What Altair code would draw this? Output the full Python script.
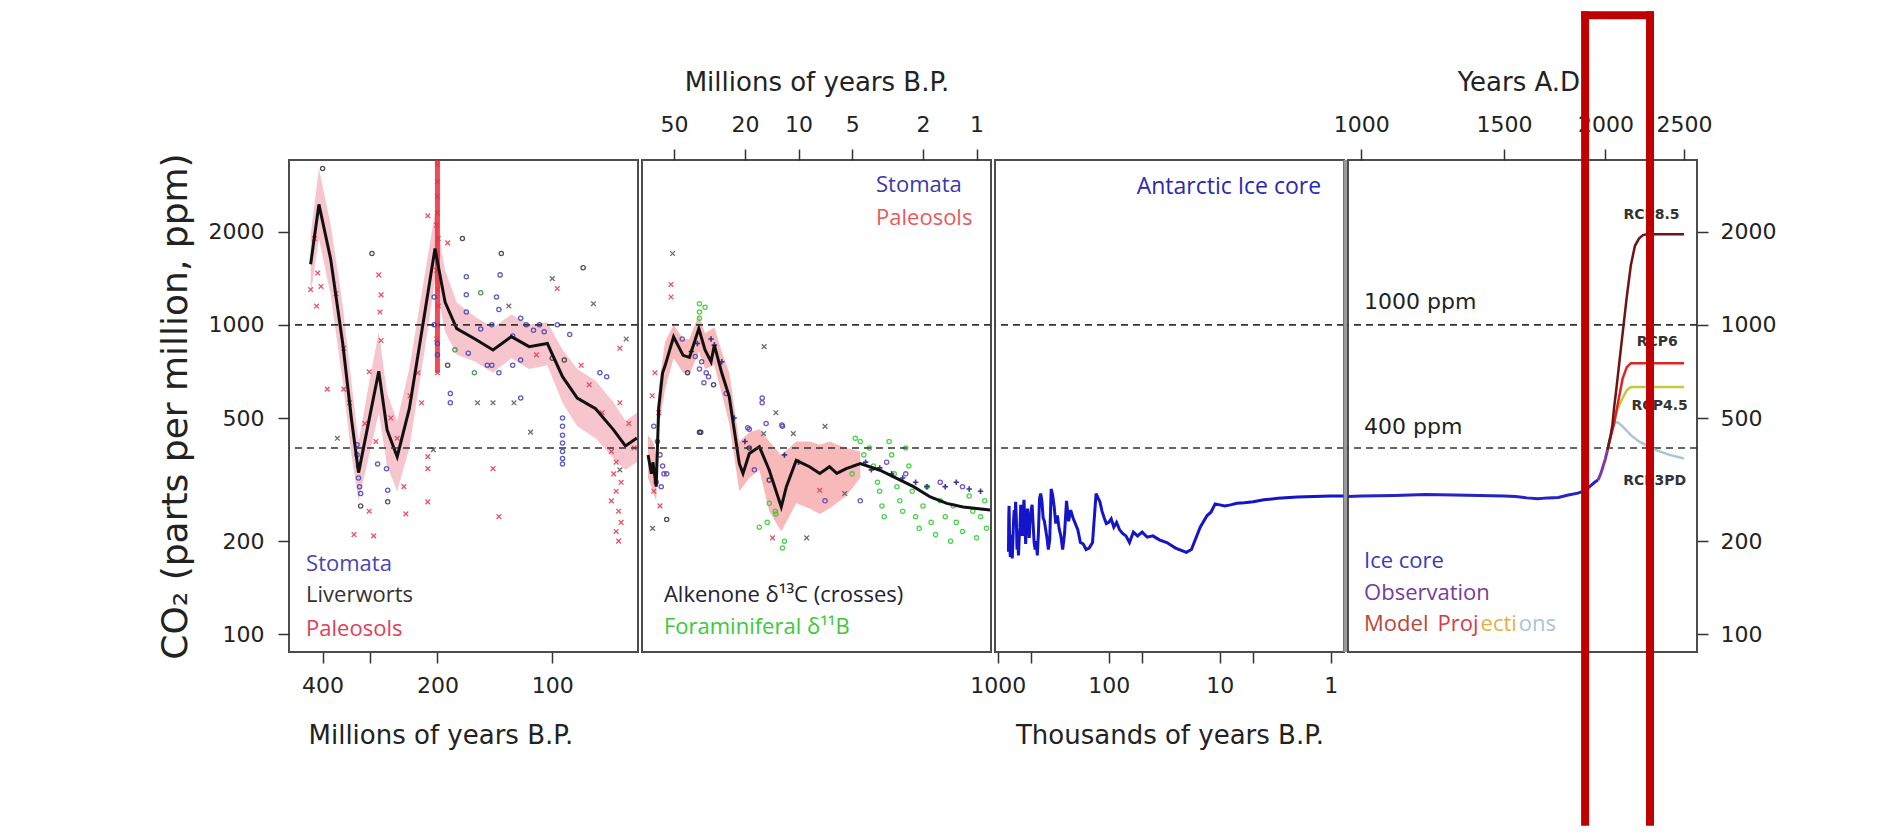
import altair as alt
import pandas as pd

# ===================== DATA =====================
# ---- Panel 1: Millions of years B.P. (490 - 60 Ma) ----
p1_line_age = [430, 409, 381, 354, 336, 322, 302, 285, 271, 255, 237, 217, 203, 191, 178, 159, 143, 128, 115, 103, 94, 86, 77, 69, 64.3, 60]
p1_line_co2 = [1570, 2450, 1630, 864, 495, 333, 495, 708, 457, 375, 536, 1052, 1763, 1185, 972, 898, 829, 916, 850, 870, 680, 580, 536, 457, 406, 431]
p1_band_lo = [1250, 1900, 1250, 650, 380, 270, 380, 520, 350, 290, 400, 800, 1400, 950, 800, 760, 700, 780, 720, 740, 560, 470, 430, 370, 340, 360]
p1_band_hi = [1950, 3200, 2100, 1150, 650, 420, 650, 950, 600, 490, 720, 1400, 2300, 1500, 1180, 1060, 980, 1080, 1000, 1020, 830, 720, 660, 560, 490, 520]
p1_streak_age = [200]
p1_streak_lo = [700]
p1_streak_hi = [3400]

p1_stomata_age = [168, 168, 168, 137, 140, 138, 121, 117, 112, 108, 105, 154, 144, 127, 204, 204, 200, 200, 148, 144, 121, 75, 72, 325, 325, 322, 322, 320, 318, 287, 272, 270, 185, 185, 121, 94, 94, 94, 94, 94, 94, 94, 166, 138, 127, 97, 90]
p1_stomata_co2 = [1430, 1250, 1100, 1450, 1230, 1120, 1050, 1000, 960, 1000, 950, 970, 1000, 920, 1230, 1000, 870, 800, 740, 740, 770, 700, 680, 410, 380, 350, 320, 300, 285, 355, 343, 292, 600, 560, 580, 500, 470, 440, 415, 390, 370, 355, 810, 700, 740, 1000, 930]
p1_liver_age = [400, 297, 172, 136, 83, 188, 318, 270, 93, 100]
p1_liver_co2 = [3200, 1700, 1900, 1700, 1530, 740, 260, 268, 770, 780]
p1_green_age = [154, 160, 180]
p1_green_co2 = [1270, 700, 830]
p1_paleo_age = [285, 281, 283, 281, 302, 369, 352, 412, 404, 212, 188, 97, 66.5, 84, 389, 302, 331, 294, 245, 242, 236, 212, 212, 212, 143, 138, 70, 68, 69, 66, 68, 70, 67, 66, 68, 67, 66.5, 352, 200, 200, 200, 200, 201, 199, 200, 201, 200, 199, 200, 201, 200, 420, 430, 415, 340, 310, 290, 265, 255, 225, 220, 110, 80, 74, 63, 61]
p1_paleo_co2 = [1450, 1250, 1100, 890, 705, 1260, 840, 1470, 1330, 2250, 1840, 1310, 840, 740, 620, 250, 210, 208, 300, 245, 590, 375, 343, 268, 343, 240, 390, 360, 330, 310, 290, 270, 250, 230, 215, 200, 560, 620, 3300, 2900, 2600, 2300, 2100, 1900, 1700, 1500, 1300, 1150, 1000, 900, 700, 1900, 1300, 1150, 560, 480, 420, 500, 430, 700, 560, 800, 640, 520, 480, 400]
p1_gray_age = [366, 205, 157, 143, 126, 114, 66.5, 100, 78, 130, 64]
p1_gray_co2 = [430, 395, 560, 560, 560, 450, 340, 1410, 1170, 1150, 900]

p1_label_text = ["Stomata", "Liverworts", "Paleosols"]
p1_label_age = [442, 442, 442]
p1_label_co2 = [169, 134, 104]

# ---- Panel 2: Millions of years B.P. (76 - 0.83 Ma) ----
p2_line_age = [70, 67, 65.7, 63, 61, 58, 56.2, 50.3, 44.5, 41, 36.3, 33.5, 31, 29.7, 27, 24.5, 21.5, 20.5, 18.9, 16.6, 14.6, 12.5, 11.7, 10.3, 8.67, 7.6, 6.7, 6.1, 5.4, 4.5, 3.49, 2.81, 2.26, 1.82, 1.47, 1.19, 0.84]
p2_line_co2 = [380, 330, 360, 300, 540, 700, 737, 915, 797, 785, 972, 829, 760, 860, 700, 586, 356, 331, 384, 404, 339, 258, 300, 365, 348, 331, 348, 331, 343, 356, 339, 319, 300, 278, 265, 258, 252]
p2_band_age = [70, 65.7, 63, 60.8, 56.2, 50.3, 44.5, 41, 36.3, 33.5, 29.7, 27, 24.5, 21.5, 18.9, 16.6, 14.6, 12.5, 10.3, 8.67, 7.6, 6.7, 5.4, 4.5]
p2_band_lo = [320, 290, 270, 470, 620, 780, 700, 690, 820, 720, 740, 600, 480, 290, 320, 340, 250, 215, 265, 255, 245, 255, 280, 320]
p2_band_hi = [440, 420, 380, 640, 880, 1000, 900, 900, 1080, 940, 980, 820, 700, 420, 450, 460, 420, 380, 420, 420, 410, 420, 400, 390]

p2_stomata_age = [38, 36, 35, 33, 32, 34, 25.5, 65, 16, 16, 19.3, 12.4, 18.9, 15.2, 12.3, 17.7, 7.1, 4.5, 62, 60, 58, 57, 63, 59, 55, 3.2, 2.5, 1.6, 1.2, 45]
p2_stomata_co2 = [790, 720, 760, 700, 680, 650, 600, 470, 580, 560, 465, 475, 460, 480, 470, 340, 270, 270, 420, 380, 350, 330, 310, 300, 330, 360, 330, 310, 300, 900]
p2_dark_age = [36, 35.4, 18.9, 14.6, 55, 42, 30]
p2_dark_co2 = [450, 450, 400, 315, 235, 700, 640]
p2_alk_age = [29.7, 31, 27, 4.2, 3.9, 3.5, 3.0, 2.6, 2.2, 1.9, 1.5, 1.3, 1.1, 0.95, 12, 10, 20, 23, 40, 37]
p2_alk_co2 = [860, 900, 760, 360, 340, 345, 330, 320, 310, 300, 300, 310, 295, 290, 380, 360, 420, 500, 820, 870]
p2_paleo_age = [52, 52, 66.3, 65, 14, 7.6, 60, 64, 61]
p2_paleo_co2 = [1350, 1230, 590, 290, 205, 292, 260, 700, 520]
p2_gray_age = [51, 15.6, 13.4, 7.1, 10.7, 15.7, 9, 5.5, 66]
p2_gray_co2 = [1700, 850, 520, 470, 445, 445, 205, 285, 220]
p2_foram_age = [36, 36, 33.5, 36, 4.5, 4.3, 4.0, 3.8, 3.6, 3.5, 3.4, 3.3, 3.1, 3.0, 2.9, 2.8, 2.7, 2.6, 2.5, 2.4, 2.3, 2.2, 2.1, 2.0, 1.9, 1.8, 1.7, 1.6, 1.5, 1.4, 1.35, 1.3, 1.2, 1.1, 1.05, 1.0, 0.95, 0.9, 0.88, 5, 4.8, 13.5, 15, 12, 14.6, 13.4, 16.6, 12.3]
p2_foram_co2 = [1170, 1050, 1140, 1100, 420, 380, 400, 350, 310, 290, 260, 240, 420, 380, 330, 300, 270, 250, 400, 350, 290, 240, 220, 260, 300, 230, 210, 270, 240, 200, 260, 230, 215, 280, 250, 205, 240, 270, 220, 330, 430, 250, 230, 200, 265, 245, 222, 190]

p2_label_text = ["Stomata", "Paleosols", "Alkenone δ¹³C (crosses)", "Foraminiferal δ¹¹B"]
p2_label_age = [3.67, 3.67, 57, 57]
p2_label_co2 = [2830, 2208, 134, 106]

# ---- Panel 3: Thousands of years B.P. (Antarctic ice core) ----
p3_age = [800, 795, 790, 780, 770, 760, 750, 740, 730, 720, 710, 700, 690, 680, 670, 660, 650, 640, 630, 620, 610, 600, 590, 580, 570, 560, 550, 540, 530, 520, 510, 500, 490, 480, 470, 460, 450, 440, 430, 420, 410, 400, 390, 380, 370, 360, 350, 340, 330, 320, 310, 300, 290, 280, 270, 260, 250, 240, 230, 220, 210, 200, 190, 180, 170, 160, 150, 140, 130, 125, 120, 115, 110, 105, 100, 95, 90, 85, 80, 75, 70, 65, 60, 55, 50, 45, 40, 35, 30, 25, 20, 18, 17, 15, 13, 12, 11, 10, 9, 8, 7, 6, 5, 4, 3, 2, 1, 0.76]
p3_co2 = [185, 240, 260, 195, 178, 210, 188, 176, 200, 232, 252, 228, 268, 238, 188, 200, 180, 205, 222, 262, 240, 208, 245, 272, 228, 196, 232, 255, 228, 205, 240, 252, 262, 228, 198, 188, 200, 180, 212, 275, 285, 270, 238, 232, 218, 205, 188, 202, 295, 282, 258, 228, 242, 220, 208, 188, 212, 270, 232, 252, 238, 228, 218, 198, 196, 188, 190, 198, 285, 276, 268, 250, 238, 228, 230, 236, 222, 230, 218, 212, 208, 198, 214, 208, 214, 206, 208, 202, 198, 190, 184, 188, 198, 222, 242, 248, 264, 262, 260, 262, 265, 266, 268, 272, 275, 278, 280, 280]
p3_label_text = ["Antarctic Ice core"]
p3_label_age = [1.22]
p3_label_co2 = [2783]

# ---- Panel 4: Years A.D. ----
p4_ice_year = [963, 1000, 1100, 1200, 1300, 1400, 1500, 1550, 1600, 1650, 1700, 1750, 1800, 1850, 1880, 1900, 1920, 1940, 1958]
p4_ice_co2 = [279, 280, 281, 283, 282, 281, 280, 279, 276, 274, 276, 277, 282, 286, 290, 296, 303, 310, 315]
p4_obs_year = [1958, 1970, 1980, 1990, 2000, 2005, 2012]
p4_obs_co2 = [315, 326, 339, 354, 369, 380, 394]
rcp85_year = [2012, 2020, 2030, 2040, 2050, 2060, 2070, 2080, 2090, 2100, 2125, 2150, 2175, 2200, 2225, 2250, 2500]
rcp85_co2 = [394, 415, 440, 475, 540, 600, 670, 750, 840, 936, 1230, 1560, 1800, 1900, 1950, 1962, 1962]
rcp6_year = [2012, 2030, 2050, 2070, 2100, 2125, 2150, 2500]
rcp6_co2 = [394, 435, 480, 550, 670, 730, 752, 752]
rcp45_year = [2012, 2030, 2050, 2070, 2100, 2125, 2150, 2500]
rcp45_co2 = [394, 435, 487, 535, 580, 615, 630, 630]
rcp3_year = [2012, 2030, 2050, 2070, 2100, 2150, 2200, 2300, 2400, 2500]
rcp3_co2 = [394, 440, 480, 485, 470, 440, 420, 395, 380, 370]

rcp_label_text = ["RCP8.5", "RCP6", "RCP4.5", "RCP3PD"]
rcp_label_year = [2280, 2317, 2333, 2300]
rcp_label_co2 = [2258, 881, 547, 312]
ppm_label_text = ["1000 ppm", "400 ppm"]
ppm_label_year = [1008, 1008]
ppm_label_co2 = [1186, 467]
p4_label_text = ["Ice core", "Observation"]
p4_label_year = [1008, 1008]
p4_label_co2 = [173, 136]
proj_label_text = ["Model ", "Proj", "ecti", "ons"]
proj_label_year = [1008, 1242, 1403, 1564]
proj_label_co2 = [108, 108, 108, 108]

ref_lines_co2 = [1000, 400]
highlight_year = [1888, 2270]
highlight_co2 = [10000, 24.8]

# ===================== STYLE =====================
NUM = "DejaVu Sans"
TXT = "Open Sans"
W, H = 349, 492
Y_TICKS = [100, 200, 500, 1000, 2000]
yscale = alt.Scale(type="log", domain=[87.7, 3408], nice=False)
X_PATH = "M-1,-1L1,1M-1,1L1,-1"
PLUS_PATH = "M-1,0L1,0M0,-1L0,1"


def make_axis(**kw):
    base = dict(grid=False, domain=False, tickSize=11, tickWidth=1.5, tickColor="#333333",
                labelFont=NUM, labelFontSize=22, labelColor="#222222", labelOverlap=False,
                titleFont=NUM, titleFontSize=26, titleFontWeight="normal", titleColor="#222222")
    base.update(kw)
    return alt.Axis(**base)


class Panel:
    def __init__(self, xs, xa, ya):
        self.xs, self.xa, self.ya = xs, xa, ya

    def enc(self, x="x", y="y", **extra):
        e = dict(x=alt.X(f"{x}:Q", scale=self.xs, axis=self.xa),
                 y=alt.Y(f"{y}:Q", scale=yscale, axis=self.ya))
        e.update(extra)
        return e

    def points(self, xs_, ys_, color, shape, size, sw=1.3, opacity=0.85):
        d = pd.DataFrame({"x": xs_, "y": ys_})
        return alt.Chart(d).mark_point(shape=shape, color=color, size=size, filled=False,
                                       strokeWidth=sw, opacity=opacity, clip=True).encode(**self.enc())

    def line(self, xs_, ys_, color, width):
        d = pd.DataFrame({"x": xs_, "y": ys_})
        return alt.Chart(d).mark_line(color=color, strokeWidth=width, clip=True).encode(**self.enc())

    def band(self, xs_, lo, hi, color, opacity):
        d = pd.DataFrame({"x": xs_, "y": lo, "hi": hi})
        return alt.Chart(d).mark_area(color=color, opacity=opacity, clip=True).encode(
            **self.enc(y2=alt.Y2("hi:Q")))

    def dashes(self):
        d = pd.DataFrame({"y": ref_lines_co2})
        return alt.Chart(d).mark_rule(color="#333333", strokeWidth=1.6, strokeDash=[7, 5]).encode(
            y=alt.Y("y:Q", scale=yscale, axis=self.ya))

    def texts(self, xs_, ys_, labels, colors, font=TXT, size=23, align="left", weight="normal"):
        d = pd.DataFrame({"x": xs_, "y": ys_, "t": labels})
        return alt.Chart(d).mark_text(align=align, baseline="middle", font=font, fontSize=size,
                                      fontWeight=weight).encode(
            **self.enc(text="t:N", color=alt.Color("t:N", scale=alt.Scale(domain=labels, range=colors),
                                                  legend=None)))


# ---- Panel 1 ----
P1 = Panel(
    alt.Scale(type="log", domain=[59.6, 490], reverse=True, nice=False),
    make_axis(orient="bottom", values=[400, 300, 200, 100],
              labelExpr="datum.value == 300 ? '' : format(datum.value, 'd')",
              labelPadding=12, title="Millions of years B.P.", titlePadding=26,
              titleX=19, titleAlign="left"),
    make_axis(orient="left", values=Y_TICKS, format="d", labelPadding=14,
              title="CO₂ (parts per million, ppm)", titleFontSize=36, titlePadding=14),
)
panel1 = alt.layer(
    P1.band(p1_line_age, p1_band_lo, p1_band_hi, "#f08c9c", 0.5),
    alt.Chart(pd.DataFrame({"x": p1_streak_age, "y": p1_streak_lo, "hi": p1_streak_hi}))
    .mark_rule(color="#e8202e", strokeWidth=5, opacity=0.8, clip=True)
    .encode(**P1.enc(y2=alt.Y2("hi:Q"))),
    P1.points(p1_paleo_age, p1_paleo_co2, "#e8344c", X_PATH, 22),
    P1.points(p1_gray_age, p1_gray_co2, "#555555", X_PATH, 22),
    P1.points(p1_stomata_age, p1_stomata_co2, "#4040b8", "circle", 18),
    P1.points(p1_liver_age, p1_liver_co2, "#333333", "circle", 18),
    P1.points(p1_green_age, p1_green_co2, "#2f8f3a", "circle", 18),
    P1.line(p1_line_age, p1_line_co2, "#111111", 3),
    P1.dashes(),
    P1.texts(p1_label_age, p1_label_co2, p1_label_text, ["#4646b4", "#333333", "#e0405a"], size=22),
).resolve_scale(color="independent").properties(width=W, height=H)

# ---- Panel 2 ----
P2 = Panel(
    alt.Scale(type="log", domain=[0.83, 75.7], reverse=True, nice=False),
    make_axis(orient="top", values=[50, 20, 10, 5, 2, 1], format="d", labelPadding=13,
              title="Millions of years B.P.", titlePadding=18),
    None,
)
panel2 = alt.layer(
    P2.band(p2_band_age, p2_band_lo, p2_band_hi, "#f08080", 0.55),
    P2.points(p2_foram_age, p2_foram_co2, "#2ecc2e", "circle", 18),
    P2.points(p2_paleo_age, p2_paleo_co2, "#e8344c", X_PATH, 22),
    P2.points(p2_gray_age, p2_gray_co2, "#555555", X_PATH, 22),
    P2.points(p2_stomata_age, p2_stomata_co2, "#5a3ab8", "circle", 18),
    P2.points(p2_dark_age, p2_dark_co2, "#2a2a55", "circle", 18),
    P2.points(p2_alk_age, p2_alk_co2, "#1a1a80", PLUS_PATH, 30, sw=1.6),
    P2.line(p2_line_age, p2_line_co2, "#111111", 3),
    P2.dashes(),
    P2.texts(p2_label_age, p2_label_co2, p2_label_text, ["#3a3aa8", "#e85a5a", "#222233", "#3cc83c"], size=22),
).resolve_scale(color="independent").properties(width=W, height=H)

# ---- Panel 3 ----
P3 = Panel(
    alt.Scale(type="log", domain=[0.76, 1058], reverse=True, nice=False),
    make_axis(orient="bottom", values=[1000, 500, 100, 50, 10, 5, 1],
              labelExpr="indexof([1000, 100, 10, 1], datum.value) >= 0 ? format(datum.value, 'd') : ''",
              labelPadding=12, title="Thousands of years B.P.", titlePadding=26),
    None,
)
panel3 = alt.layer(
    P3.line(p3_age, p3_co2, "#1414c8", 3),
    P3.dashes(),
    alt.Chart(pd.DataFrame({"x": [0.76], "y": [87.7], "hi": [3408]}))
    .mark_rule(color="#9a9a9a", strokeWidth=5, xOffset=2)
    .encode(**P3.enc(y2=alt.Y2("hi:Q"))),
    P3.texts(p3_label_age, p3_label_co2, p3_label_text, ["#2a2ab0"], align="right"),
).resolve_scale(color="independent").properties(width=W, height=H)

# ---- Panel 4 ----
P4 = Panel(
    alt.Scale(type="log", domain=[963, 2594], nice=False),
    make_axis(orient="top", values=[1000, 1500, 2000, 2500], format="d", labelPadding=13,
              title="Years A.D.", titlePadding=18),
    make_axis(orient="right", values=Y_TICKS, format="d", labelPadding=12, title=None),
)
box_v = pd.DataFrame({"x": highlight_year, "y": [highlight_co2[0]] * 2, "y2": [highlight_co2[1]] * 2})
box_t = pd.DataFrame({"x": [highlight_year[0]], "x2": [highlight_year[1]], "y": [highlight_co2[0]]})
panel4 = alt.layer(
    P4.dashes(),
    P4.line(rcp3_year, rcp3_co2, "#a9c6d6", 2.5),
    P4.line(rcp45_year, rcp45_co2, "#c9c83c", 2.5),
    P4.line(rcp6_year, rcp6_co2, "#e02424", 2.5),
    P4.line(rcp85_year, rcp85_co2, "#6e1414", 2.5),
    P4.line(p4_ice_year, p4_ice_co2, "#2424c4", 3),
    P4.line(p4_obs_year, p4_obs_co2, "#7a3aa8", 3),
    P4.texts(ppm_label_year, ppm_label_co2, ppm_label_text, ["#222222", "#222222"], font=NUM, size=22),
    P4.texts(p4_label_year, p4_label_co2, p4_label_text, ["#3a3ab4", "#7a3a9a"], size=22),
    P4.texts(proj_label_year, proj_label_co2, proj_label_text,
             ["#b8483c", "#d83a4a", "#e8b040", "#a8c4d8"], size=22),
    P4.texts(rcp_label_year, rcp_label_co2, rcp_label_text, ["#333333"] * 4, font=NUM, size=14,
             align="center", weight="bold"),
    alt.Chart(box_v).mark_rule(color="#c00000", strokeWidth=8, strokeCap="square")
    .encode(**P4.enc(y2=alt.Y2("y2:Q"))),
    alt.Chart(box_t).mark_rule(color="#c00000", strokeWidth=8, strokeCap="square")
    .encode(**P4.enc(x2=alt.X2("x2:Q"))),
).resolve_scale(color="independent").properties(width=W, height=H)

chart = alt.hconcat(panel1, panel2, panel3, panel4, spacing=4, bounds="flush").properties(
    padding={"left": 148, "top": 0, "right": 10, "bottom": 0},
    background="white",
).configure_view(stroke="#4d4d4d", strokeWidth=2)

chart.save("out.html", embed_options={"renderer": "svg", "actions": False})
